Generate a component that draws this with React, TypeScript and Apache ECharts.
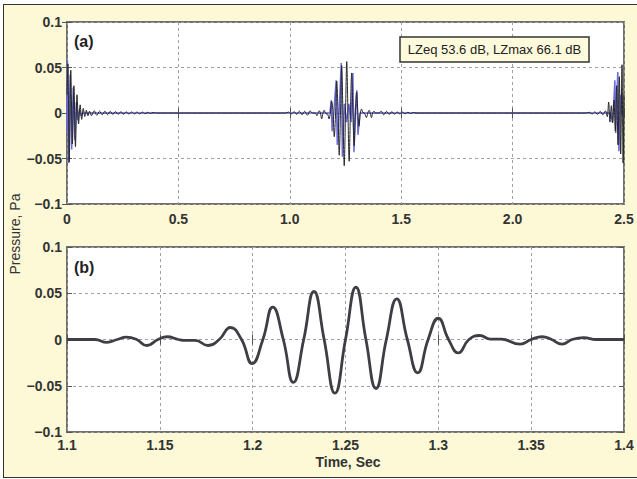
import React, { useEffect, useRef } from "react";
import * as echarts from "echarts";

// ---- tick labels ----
const overviewTickLabels = ["0", "0.5", "1.0", "1.5", "2.0", "2.5"];
const zoomTickLabels = ["1.1", "1.15", "1.2", "1.25", "1.3", "1.35", "1.4"];
const pressureTickLabels = ["\u22120.1", "\u22120.05", "0", "0.05", "0.1"];

// ---- panel (b): zoomed waveform, time (s) and pressure (Pa) ----
const zoomTime = [
  1.1, 1.115, 1.1215, 1.127, 1.132, 1.1375, 1.143, 1.149, 1.154, 1.16, 1.164, 1.169,
  1.176, 1.182, 1.188, 1.194, 1.1997, 1.2055, 1.2108, 1.2165, 1.2219, 1.2275, 1.233,
  1.2385, 1.2443, 1.25, 1.2556, 1.261, 1.2664, 1.272, 1.2776, 1.2833, 1.2889, 1.2945,
  1.3, 1.3055, 1.3108, 1.3165, 1.3223, 1.328, 1.334, 1.344, 1.35, 1.3559, 1.361,
  1.3666, 1.372, 1.3783, 1.385, 1.4,
];
const zoomPressure = [
  0, 0, -0.003, 0, 0.0025, 0, -0.0065, 0, 0.003, 0, -0.001, -0.001,
  -0.0065, 0, 0.013, 0, -0.026, 0, 0.035, 0, -0.0464, 0, 0.052,
  0, -0.058, 0, 0.0565, 0, -0.053, 0, 0.044, 0, -0.036, 0,
  0.023, 0, -0.0145, 0, 0.0043, 0.0005, 0.0003, -0.005, 0, 0.003, 0,
  -0.005, 0, 0.002, 0, 0,
];

// ---- panel (a): overview, black trace segments [time, pressure] ----
const startBurstBlack: [number, number][] = [
  [0, 0.02], [0.004, 0.054], [0.01, -0.054], [0.017, 0.047], [0.024, -0.034],
  [0.031, 0.03], [0.038, -0.037], [0.045, 0.02], [0.052, -0.012], [0.059, 0.009],
  [0.066, -0.007], [0.073, 0.005], [0.08, -0.004], [0.087, 0.003], [0.094, -0.003],
  [0.101, 0.002],
];
const rippleAfterStart: [number, number][] = [
  [0.11, -0.003], [0.122, 0.0025], [0.134, -0.0025], [0.146, 0.002], [0.158, -0.002],
  [0.17, 0.002], [0.182, -0.0018], [0.194, 0.0018], [0.206, -0.0016], [0.218, 0.0016],
  [0.23, -0.0015], [0.242, 0.0015], [0.254, -0.0013], [0.266, 0.0013], [0.278, -0.0012],
  [0.29, 0.0012], [0.302, -0.001], [0.314, 0.001], [0.326, -0.001], [0.338, 0.001],
  [0.35, -0.0008], [0.362, 0.0008], [0.374, -0.0006], [0.386, 0.0006], [0.4, 0],
];
const rippleBeforeMid: [number, number][] = [
  [0.98, 0], [0.995, 0.001], [1.007, -0.001], [1.019, 0.0015], [1.031, -0.0015],
  [1.043, 0.002], [1.055, -0.002], [1.067, 0.002], [1.079, -0.0025], [1.091, 0.0025],
];
const rippleAfterMid: [number, number][] = [
  [1.41, 0.002], [1.422, -0.002], [1.434, 0.0018], [1.446, -0.0016], [1.458, 0.0015],
  [1.47, -0.0013], [1.482, 0.0012], [1.494, -0.001], [1.506, 0.001], [1.518, -0.0008],
  [1.53, 0.0008], [1.542, -0.0006], [1.554, 0.0005], [1.57, 0],
];
const endBurstBlack: [number, number][] = [
  [2.33, 0], [2.345, 0.0008], [2.357, -0.001], [2.369, 0.0012], [2.381, -0.0015],
  [2.393, 0.0018], [2.405, -0.002], [2.417, 0.0025], [2.425, -0.004], [2.431, 0.012],
  [2.437, -0.01], [2.443, 0.008], [2.449, -0.011], [2.455, 0.014], [2.461, -0.02],
  [2.467, 0.03], [2.473, -0.035], [2.479, 0.04], [2.485, -0.045], [2.491, 0.053],
  [2.496, -0.055], [2.5, 0.02],
];

// ---- panel (a): blue trace segments ----
const startBurstBlue: [number, number][] = [
  [0, -0.02], [0.002, 0.058], [0.007, -0.055], [0.014, 0.042], [0.021, -0.04],
  [0.028, 0.028], [0.035, -0.03], [0.042, 0.012], [0.049, -0.008], [0.056, 0.004],
  [0.063, -0.003], [0.07, 0],
];
const midBurstBlue: [number, number][] = [
  [1.18, 0], [1.186, 0.014], [1.19, -0.02], [1.199, 0.005], [1.208, 0.036],
  [1.213, -0.035], [1.222, 0.005], [1.231, 0.055], [1.236, -0.048], [1.245, 0.01],
  [1.255, -0.01], [1.265, 0.01], [1.275, -0.01], [1.283, 0.044], [1.288, -0.043],
  [1.295, 0.005], [1.301, 0.025], [1.306, -0.024], [1.315, 0],
];
const endBurstBlue: [number, number][] = [
  [2.44, 0], [2.448, -0.01], [2.455, 0.015], [2.459, 0.036], [2.463, -0.022],
  [2.472, 0.045], [2.477, -0.042], [2.485, 0.02], [2.49, 0], [2.5, 0],
];

const legendText = "LZeq 53.6 dB, LZmax 66.1 dB";

const FONT = "'Liberation Sans', Arial, Helvetica, sans-serif";

export default function App() {
  const ref = useRef<HTMLDivElement>(null);

  useEffect(() => {
    if (!ref.current) return;
    const chart = echarts.init(ref.current, undefined, { renderer: "svg" });

    const zoomWave = zoomTime.map((t, i) => [t, zoomPressure[i]]);
    const topBlack = [
      ...startBurstBlack,
      ...rippleAfterStart,
      ...rippleBeforeMid,
      ...zoomWave,
      ...rippleAfterMid,
      ...endBurstBlack,
    ];
    const topBlue = [...startBurstBlue, ...midBurstBlue, ...endBurstBlue];

    const labelStyle = {
      fontFamily: FONT,
      fontSize: 14,
      fontWeight: "bold" as const,
      color: "#333",
    };
    const tickStyle = { show: true, inside: true, length: 5, lineStyle: { color: "#555", width: 1 } };
    const split = { show: true, lineStyle: { color: "#a0a0a0", width: 1, type: [3, 3] as any } };

    const pick = (labels: string[], min: number, interval: number) => (v: number) =>
      labels[Math.round((v - min) / interval)] ?? "";

    const mainX = (gridIndex: number, min: number, max: number, interval: number, labels: string[], margin: number) => ({
      type: "value",
      gridIndex,
      min,
      max,
      interval,
      position: "bottom",
      axisLine: { show: false },
      axisTick: tickStyle,
      splitLine: split,
      axisLabel: { ...labelStyle, margin, formatter: pick(labels, min, interval) },
    });
    const sideX = (gridIndex: number, min: number, max: number, interval: number) => ({
      type: "value",
      gridIndex,
      min,
      max,
      interval,
      position: "top",
      axisLine: { show: false },
      axisTick: tickStyle,
      splitLine: { show: false },
      axisLabel: { show: false },
    });
    const mainY = (gridIndex: number) => ({
      type: "value",
      gridIndex,
      min: -0.1,
      max: 0.1,
      interval: 0.05,
      position: "left",
      axisLine: { show: false },
      axisTick: tickStyle,
      splitLine: split,
      axisLabel: { ...labelStyle, margin: 5, formatter: pick(pressureTickLabels, -0.1, 0.05) },
    });
    const sideY = (gridIndex: number) => ({
      type: "value",
      gridIndex,
      min: -0.1,
      max: 0.1,
      interval: 0.05,
      position: "right",
      axisLine: { show: false },
      axisTick: tickStyle,
      splitLine: { show: false },
      axisLabel: { show: false },
    });

    const option: any = {
      animation: false,
      backgroundColor: "transparent",
      grid: [
        { left: 67, top: 22, width: 557, height: 182, show: true, backgroundColor: "#fff", borderColor: "#6f6f6f", borderWidth: 2 },
        { left: 67, top: 247, width: 557, height: 185, show: true, backgroundColor: "#fff", borderColor: "#6f6f6f", borderWidth: 2 },
      ],
      xAxis: [
        mainX(0, 0, 2.5, 0.5, overviewTickLabels, 8),
        mainX(1, 1.1, 1.4, 0.05, zoomTickLabels, 6),
        sideX(0, 0, 2.5, 0.5),
        sideX(1, 1.1, 1.4, 0.05),
      ],
      yAxis: [mainY(0), mainY(1), sideY(0), sideY(1)],
      series: [
        {
          type: "line",
          xAxisIndex: 0,
          yAxisIndex: 0,
          data: topBlue,
          showSymbol: false,
          smooth: false,
          lineStyle: { color: "#6a6ad6", width: 1.5 },
          z: 2,
        },
        {
          type: "line",
          xAxisIndex: 0,
          yAxisIndex: 0,
          data: topBlack,
          showSymbol: false,
          smooth: 0.3,
          lineStyle: { color: "#262626", width: 1 },
          z: 3,
        },
        {
          type: "line",
          xAxisIndex: 1,
          yAxisIndex: 1,
          data: zoomWave,
          showSymbol: false,
          smooth: 0.5,
          lineStyle: { color: "#403d45", width: 2.8 },
          z: 3,
        },
      ],
      graphic: [
        {
          type: "text",
          x: 74,
          y: 41,
          z: 100,
          style: { text: "(a)", fill: "#222", font: `bold 16px ${FONT}`, textVerticalAlign: "middle" },
        },
        {
          type: "text",
          x: 74,
          y: 267,
          z: 100,
          style: { text: "(b)", fill: "#222", font: `bold 16px ${FONT}`, textVerticalAlign: "middle" },
        },
        {
          type: "rect",
          z: 100,
          shape: { x: 400, y: 37, width: 189, height: 25 },
          style: { fill: "#fefbdc", stroke: "#333", lineWidth: 1.5 },
        },
        {
          type: "text",
          x: 494.5,
          y: 49.5,
          z: 101,
          style: {
            text: legendText,
            fill: "#222",
            font: `13px ${FONT}`,
            textAlign: "center",
            textVerticalAlign: "middle",
          },
        },
        {
          type: "text",
          x: 15,
          y: 234,
          rotation: Math.PI / 2,
          z: 100,
          style: {
            text: "Pressure, Pa",
            fill: "#333",
            font: `14px ${FONT}`,
            textAlign: "center",
            textVerticalAlign: "middle",
          },
        },
        {
          type: "text",
          x: 348,
          y: 462,
          z: 100,
          style: {
            text: "Time, Sec",
            fill: "#333",
            font: `bold 14px ${FONT}`,
            textAlign: "center",
            textVerticalAlign: "middle",
          },
        },
      ],
    };

    chart.setOption(option);
    return () => chart.dispose();
  }, []);

  return (
    <div style={{ position: "fixed", left: 0, top: 0, width: 637, height: 479, background: "#fff", overflow: "hidden" }}>
      <div
        style={{
          position: "absolute",
          left: 3,
          top: 4,
          width: 640,
          height: 472,
          border: "1.5px solid #333",
          background: "#fdf8d6",
        }}
      />
      <div ref={ref} style={{ position: "absolute", left: 0, top: 0, width: 637, height: 479 }} />
    </div>
  );
}
